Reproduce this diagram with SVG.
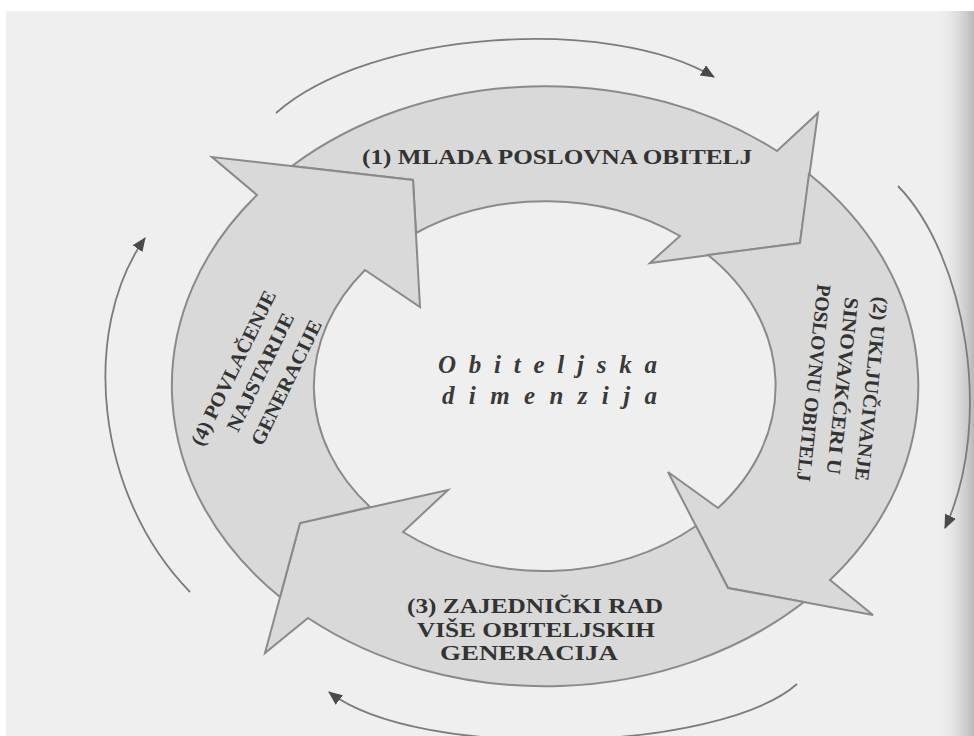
<svg xmlns="http://www.w3.org/2000/svg" width="974" height="736" viewBox="0 0 974 736">
  <defs>
    <style>
      .seg { fill: #d9d9d9; stroke: #8a8a8a; stroke-width: 2; stroke-linejoin: miter; }
      .lbl { font-family: "Liberation Serif", "Times New Roman", serif; font-weight: bold; font-size: 20px; fill: #333333; }
      .ctr { font-family: "Liberation Serif", "Times New Roman", serif; font-weight: bold; font-style: italic; font-size: 25px; fill: #3a3a3a; }
      .flow { fill: none; stroke: #7c7c7c; stroke-width: 1.8; }
    </style>
    <marker id="ah" markerUnits="userSpaceOnUse" markerWidth="16" markerHeight="12" refX="13" refY="6" orient="auto">
      <path d="M0,0 L14,6 L0,12 Z" fill="#4a4a4a"/>
    </marker>
    <linearGradient id="edge" x1="0" y1="0" x2="1" y2="0">
      <stop offset="0" stop-color="#efefef" stop-opacity="0"/>
      <stop offset="1" stop-color="#b8b8b8"/>
    </linearGradient>
  </defs>

  <rect x="0" y="0" width="974" height="736" fill="#ffffff"/>
  <rect x="6" y="11" width="968" height="725" fill="#efefef"/>
  <rect x="935" y="11" width="39" height="725" fill="url(#edge)"/>

  <g id="connectors">
    <path class="flow" d="M276,113 C370,30 610,15 714,77" marker-end="url(#ah)"/>
    <path class="flow" d="M898,186 C965,255 995,420 945,528" marker-end="url(#ah)"/>
    <path class="flow" d="M797,684 C720,752 420,762 329,692" marker-end="url(#ah)"/>
    <path class="flow" d="M190,592 C95,495 80,330 145,238" marker-end="url(#ah)"/>
  </g>

  <g id="stage1">
    <path class="seg" d="M292,166 A373,300 0 0 1 777,151 L818,113 L800,243 L650,263 L680,236 A231,185 0 0 0 416,233 L413,180 Z"/>
    <text class="lbl" x="362" y="164" textLength="390" lengthAdjust="spacingAndGlyphs">(1) MLADA POSLOVNA OBITELJ</text>
  </g>

  <g id="stage2">
    <path class="seg" d="M809,174 A373,300 0 0 1 830,580 L873,615 L728,588 L668,472 L718,508 A231,185 0 0 0 708,255 L800,243 Z"/>
    <g transform="translate(843,386) rotate(96)">
      <text class="lbl" x="0" y="-22" text-anchor="middle" textLength="185" lengthAdjust="spacingAndGlyphs">(2) UKLJUČIVANJE</text>
      <text class="lbl" x="0" y="7" text-anchor="middle" textLength="178" lengthAdjust="spacingAndGlyphs">SINOVA/KĆERI U</text>
      <text class="lbl" x="0" y="36" text-anchor="middle" textLength="198" lengthAdjust="spacingAndGlyphs">POSLOVNU OBITELJ</text>
    </g>
  </g>

  <g id="stage3">
    <path class="seg" d="M804,602 A373,300 0 0 1 308,618 L265,653 L300,523 L448,490 L403,532 A231,185 0 0 0 696,526 L728,588 Z"/>
    <text class="lbl" x="407" y="613" textLength="256" lengthAdjust="spacingAndGlyphs">(3) ZAJEDNIČKI RAD</text>
    <text class="lbl" x="417" y="637" textLength="238" lengthAdjust="spacingAndGlyphs">VIŠE OBITELJSKIH</text>
    <text class="lbl" x="440" y="660" textLength="178" lengthAdjust="spacingAndGlyphs">GENERACIJA</text>
  </g>

  <g id="stage4">
    <path class="seg" d="M280,597 A373,300 0 0 1 257,195 L212,157 L413,180 L420,307 L365,270 A231,185 0 0 0 370,507 L300,523 Z"/>
    <g transform="translate(260,372) rotate(-64)">
      <text class="lbl" x="-8" y="-19" text-anchor="middle" textLength="170" lengthAdjust="spacingAndGlyphs">(4) POVLAČENJE</text>
      <text class="lbl" x="0" y="7" text-anchor="middle" textLength="129" lengthAdjust="spacingAndGlyphs">NAJSTARIJE</text>
      <text class="lbl" x="2" y="35" text-anchor="middle" textLength="137" lengthAdjust="spacingAndGlyphs">GENERACIJE</text>
    </g>
  </g>

  <g id="center">
    <text class="ctr" x="438" y="373" textLength="219">Obiteljska</text>
    <text class="ctr" x="442" y="404" textLength="215">dimenzija</text>
  </g>
</svg>
